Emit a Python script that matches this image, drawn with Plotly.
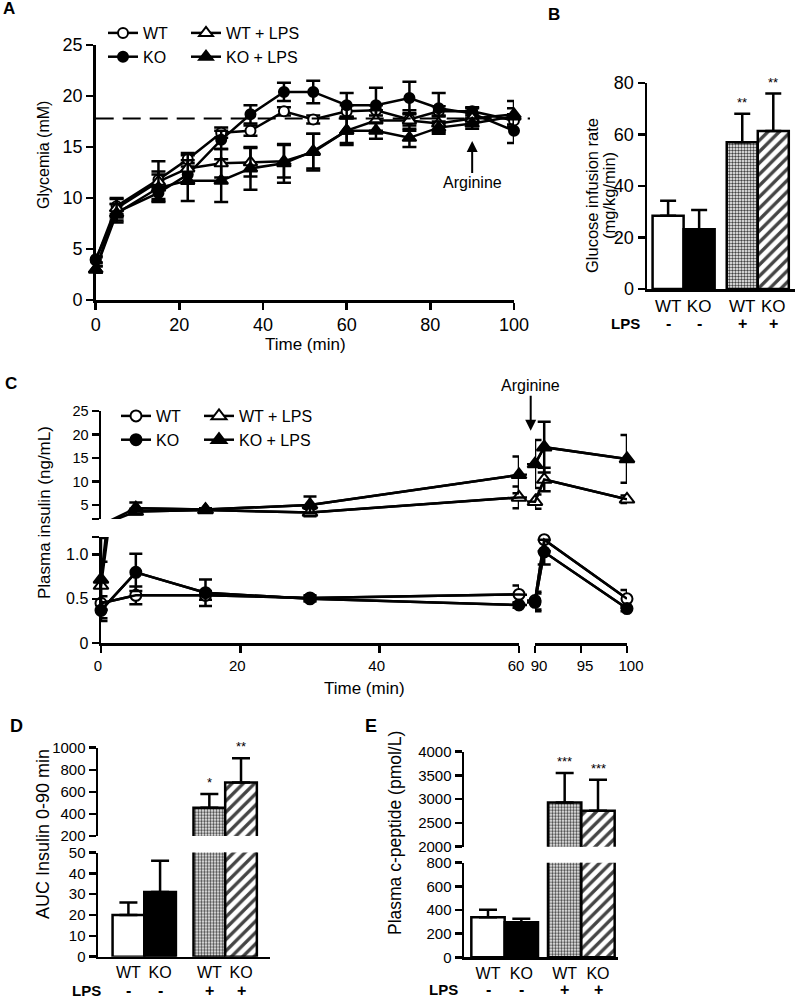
import plotly.graph_objects as go

W, H = 795, 998
FONT = "Liberation Sans, Arial, Helvetica, sans-serif"


def px(x):
    return x / W


def py(y):
    return 1 - y / H


# ---------------- data ----------------
groups = ["WT", "KO", "WT + LPS", "KO + LPS"]

# Panel A: glycemia (mM) during clamp
time_a = [0, 5, 15, 22, 30, 37, 45, 52, 60, 67, 75, 82, 90, 100]
glyc_wt = [3.9, 9.2, 11.8, 13.8, 16.4, 16.6, 18.5, 17.7, 18.5, 18.6, 17.7, 18.5, 18.5, 17.6]
glyc_wt_err = [0.3, 0.8, 0.8, 0.4, 0.5, 0.5, 0.4, 0.4, 0.6, 0.5, 0.6, 0.5, 0.4, 0.6]
glyc_ko = [4.0, 8.6, 10.5, 12.3, 15.7, 18.2, 20.4, 20.4, 19.1, 19.1, 19.8, 18.8, 18.3, 16.6]
glyc_ko_err = [0.3, 0.8, 0.6, 0.8, 0.9, 0.9, 0.9, 1.1, 1.2, 1.7, 1.6, 1.5, 0.5, 1.2]
glyc_wt_lps = [3.0, 9.0, 11.6, 12.9, 13.4, 13.5, 13.6, 14.5, 16.6, 17.6, 17.6, 17.3, 17.8, 18.2]
glyc_wt_lps_err = [0.3, 0.9, 2.0, 1.5, 1.4, 1.4, 1.6, 1.8, 1.2, 1.0, 1.0, 0.8, 0.5, 1.3]
glyc_ko_lps = [3.0, 8.5, 11.0, 11.7, 11.7, 12.9, 13.4, 14.6, 16.6, 16.6, 15.9, 16.9, 17.3, 18.0]
glyc_ko_lps_err = [0.3, 0.9, 1.3, 2.0, 2.1, 2.1, 1.9, 1.7, 1.4, 0.8, 0.9, 0.6, 0.5, 0.8]
glyc_target = 17.8
arginine_time = 90

# Panel B: glucose infusion rate
bar_geno = ["WT", "KO", "WT", "KO"]
bar_lps = ["-", "-", "+", "+"]
gir_mean = [28.4, 23.2, 57.0, 61.4]
gir_err = [5.9, 7.5, 11.1, 14.5]
gir_sig = ["", "", "**", "**"]

# Panel C: plasma insulin (ng/mL)
time_c = [0, 5, 15, 30, 60, 90, 91, 100]
ins_wt = [0.45, 0.54, 0.54, 0.51, 0.55, 0.48, 1.17, 0.50]
ins_wt_err = [0.08, 0.10, 0.05, 0.03, 0.10, 0.10, 0.13, 0.10]
ins_ko = [0.37, 0.80, 0.57, 0.50, 0.43, 0.46, 1.03, 0.39]
ins_ko_err = [0.09, 0.21, 0.15, 0.03, 0.03, 0.10, 0.14, 0.03]
ins_wt_lps = [0.65, 3.6, 3.9, 3.4, 6.6, 5.7, 10.4, 6.2]
ins_wt_lps_err = [0.27, 0.6, 0.3, 0.8, 2.3, 1.5, 2.5, 0.8]
ins_ko_lps = [0.72, 4.3, 4.0, 5.0, 11.4, 13.7, 17.3, 14.8]
ins_ko_lps_err = [0.47, 1.2, 0.3, 1.8, 3.9, 5.1, 5.4, 5.1]

# Panel D: AUC insulin 0-90 min
auc_mean = [20, 31, 455, 685]
auc_err = [6, 15, 125, 220]
auc_sig = ["", "", "*", "**"]

# Panel E: plasma c-peptide (pmol/L)
cpep_mean = [338, 296, 2930, 2755]
cpep_err = [65, 30, 620, 655]
cpep_sig = ["", "", "***", "***"]

# ---------------- styles ----------------
LW = 2.5
series_style = {
    "WT": dict(symbol="circle", color="white", size=10),
    "KO": dict(symbol="circle", color="black", size=10),
    "WT + LPS": dict(symbol="triangle-up", color="white", size=12),
    "KO + LPS": dict(symbol="triangle-up", color="black", size=12),
}
bar_fill = {
    ("WT", "-"): dict(color="white", shape="", size=8, solidity=0.3),
    ("KO", "-"): dict(color="black", shape="", size=8, solidity=0.3),
    ("WT", "+"): dict(color="white", shape=".", size=3, solidity=0.5),
    ("KO", "+"): dict(color="white", shape="/", size=8, solidity=0.42),
}


def mk(name, size=None):
    s = series_style[name]
    return dict(symbol=s["symbol"], color=s["color"], size=size or s["size"],
                line=dict(color="black", width=2))


def axstyle(**kw):
    d = dict(showline=True, linecolor="black", linewidth=LW, ticks="outside",
             ticklen=7, tickwidth=LW, tickcolor="black", showgrid=False,
             zeroline=False, fixedrange=True, automargin=False,
             tickfont=dict(family=FONT, size=18, color="black"))
    d.update(kw)
    return d


fig = go.Figure()

# ---------------- Panel A ----------------
series_a = [
    ("WT", glyc_wt, glyc_wt_err, "legend"),
    ("KO", glyc_ko, glyc_ko_err, "legend"),
    ("WT + LPS", glyc_wt_lps, glyc_wt_lps_err, "legend2"),
    ("KO + LPS", glyc_ko_lps, glyc_ko_lps_err, "legend2"),
]
for name, vals, errs, leg in series_a:
    fig.add_trace(go.Scatter(
        x=time_a, y=vals, name=name, mode="lines+markers",
        line=dict(color="black", width=LW), marker=mk(name),
        error_y=dict(type="data", array=errs, color="black", thickness=LW, width=7),
        xaxis="x", yaxis="y", cliponaxis=False, legend=leg, hoverinfo="skip"))


# ---------------- Panel B ----------------
def bar_positions(lps, gap):
    return [i + (gap if l == "+" else 0) for i, l in enumerate(lps)]


def bar_marker(geno, lps):
    keys = list(zip(geno, lps))
    return dict(
        color=[bar_fill[k]["color"] for k in keys],
        line=dict(color="black", width=LW),
        pattern=dict(shape=[bar_fill[k]["shape"] for k in keys],
                     size=[bar_fill[k]["size"] for k in keys],
                     solidity=[bar_fill[k]["solidity"] for k in keys],
                     fgcolor="black", fgopacity=1, fillmode="overlay"))


pos_b = bar_positions(bar_lps, 0.39)
fig.add_trace(go.Bar(
    x=pos_b, y=gir_mean, width=1, xaxis="x2", yaxis="y2",
    marker=bar_marker(bar_geno, bar_lps), showlegend=False, hoverinfo="skip",
    error_y=dict(type="data", symmetric=False, array=gir_err, arrayminus=[0] * 4,
                 color="black", thickness=LW, width=8)))

# ---------------- Panel C ----------------
C_LEFT = (101, 519)
C_RIGHT = (535, 627)
c_mid = (C_LEFT[1] + C_RIGHT[0]) / 2
c_left_range = [0, 60]
c_right_range = [90, 100]
c_up_range = [2, 25]
c_low_range = [0, 1.2]
c_left_line_range = [0, 60 * (c_mid - C_LEFT[0]) / (C_LEFT[1] - C_LEFT[0])]
c_right_line_range = [100 - 10 * (C_RIGHT[1] - c_mid) / (C_RIGHT[1] - C_RIGHT[0]), 100]

series_c = [
    ("WT", ins_wt, ins_wt_err, "legend3"),
    ("KO", ins_ko, ins_ko_err, "legend3"),
    ("WT + LPS", ins_wt_lps, ins_wt_lps_err, "legend4"),
    ("KO + LPS", ins_ko_lps, ins_ko_lps_err, "legend4"),
]
x_segments = [("x5", "x3", c_left_range), ("x6", "x4", c_right_range)]
y_segments = [("y3", c_up_range), ("y4", c_low_range)]
# connecting lines first (underneath), markers afterwards
for name, vals, errs, leg in series_c:
    for xa_line, xa_vis, xr in x_segments:
        for ya, yr in y_segments:
            fig.add_trace(go.Scatter(
                x=time_c, y=vals, mode="lines", line=dict(color="black", width=LW),
                xaxis=xa_line, yaxis=ya, showlegend=False, hoverinfo="skip"))
for name, vals, errs, leg in series_c:
    for xa_line, xa_vis, xr in x_segments:
        for ya, yr in y_segments:
            idx = [i for i, (t, v) in enumerate(zip(time_c, vals))
                   if xr[0] <= t <= xr[1] and yr[0] <= v <= yr[1]]
            if not idx:
                continue
            fig.add_trace(go.Scatter(
                x=[time_c[i] for i in idx], y=[vals[i] for i in idx],
                name=name, mode="lines+markers",
                line=dict(color="black", width=LW),
                marker=mk(name, series_style[name]["size"] + 1),
                error_y=dict(type="data", array=[errs[i] for i in idx], color="black",
                             thickness=LW, width=6.5),
                xaxis=xa_vis, yaxis=ya, cliponaxis=False, legend=leg,
                showlegend=(xa_vis == "x3" and ya == "y4"), hoverinfo="skip"))

# ---------------- Panel D & E ----------------
pos_d = bar_positions(bar_lps, 0.555)
pos_e = bar_positions(bar_lps, 0.3)
for ya in ("y5", "y6"):
    fig.add_trace(go.Bar(
        x=pos_d, y=auc_mean, width=1, xaxis="x7", yaxis=ya,
        marker=bar_marker(bar_geno, bar_lps), showlegend=False, hoverinfo="skip",
        error_y=dict(type="data", symmetric=False, array=auc_err, arrayminus=[0] * 4,
                     color="black", thickness=LW, width=9)))
for ya in ("y7", "y8"):
    fig.add_trace(go.Bar(
        x=pos_e, y=cpep_mean, width=1, xaxis="x8", yaxis=ya,
        marker=bar_marker(bar_geno, bar_lps), showlegend=False, hoverinfo="skip",
        error_y=dict(type="data", symmetric=False, array=cpep_err, arrayminus=[0] * 4,
                     color="black", thickness=LW, width=9)))

# ---------------- annotations ----------------
ann = []


def text(x, y, t, size=16, bold=False, angle=0, xref="paper", yref="paper", **kw):
    d = dict(x=x, y=y, xref=xref, yref=yref, text=f"<b>{t}</b>" if bold else t,
             showarrow=False, textangle=angle, xanchor="center", yanchor="middle",
             font=dict(family=FONT, size=size, color="black"))
    d.update(kw)
    ann.append(d)


# panel letters
text(px(9), py(9), "A", 17, True)
text(px(554), py(14), "B", 17, True)
text(px(11), py(383), "C", 17, True)
text(px(16), py(726), "D", 18, True)
text(px(371), py(726), "E", 18, True)

# axis titles
text(px(43), py(155), "Glycemia (mM)", 16, angle=-90)
text(px(305), py(345), "Time (min)", 17)
text(px(592), py(196), "Glucose infusion rate", 16.5, angle=-90)
text(px(609), py(196), "(mg/kg/min)", 16.5, angle=-90)
text(px(44), py(513), "Plasma insulin (ng/mL)", 17, angle=-90)
text(px(364), py(688), "Time (min)", 17)
text(px(43), py(834), "AUC Insulin 0-90 min", 18, angle=-90)
text(px(395), py(833), "Plasma c-peptide (pmol/L)", 17.5, angle=-90)

# LPS rows and significance stars
for xa, pos, yrow, lps_x, ya_sig, means, errs, sigs in [
    ("x2", pos_b, 323, 625, "y2", gir_mean, gir_err, gir_sig),
    ("x7", pos_d, 990, 86, "y5", auc_mean, auc_err, auc_sig),
    ("x8", pos_e, 989, 443, "y7", cpep_mean, cpep_err, cpep_sig),
]:
    text(px(lps_x), py(yrow), "LPS", 15, True)
    for p, l in zip(pos, bar_lps):
        text(p, py(yrow), l, 16, True, xref=xa)
    for p, m, e, s in zip(pos, means, errs, sigs):
        if s:
            text(p, m + e, s, 13, xref=xa, yref=ya_sig, yanchor="bottom", yshift=2)

# Arginine arrows
ann.append(dict(x=arginine_time, y=15.6, xref="x", yref="y", text="Arginine",
                showarrow=True, arrowhead=2, arrowsize=1.1, arrowwidth=2,
                arrowcolor="black", ax=0, ay=42,
                font=dict(family=FONT, size=16, color="black")))
ann.append(dict(x=px(530.7), y=20.8, xref="paper", yref="y3", text="Arginine",
                showarrow=True, arrowhead=2, arrowsize=1.1, arrowwidth=2,
                arrowcolor="black", ax=0, ay=-45,
                font=dict(family=FONT, size=16, color="black")))

# ---------------- layout ----------------
f15 = dict(family=FONT, size=15, color="black")
f16 = dict(family=FONT, size=16, color="black")
layout = dict(
    width=W, height=H, margin=dict(l=0, r=0, t=0, b=0, autoexpand=False),
    paper_bgcolor="white", plot_bgcolor="rgba(0,0,0,0)", barmode="overlay",
    font=dict(family=FONT, color="black"),
    annotations=ann,
    shapes=[dict(type="line", xref="paper", x0=px(95.7), x1=px(530), yref="y",
                 y0=glyc_target, y1=glyc_target,
                 line=dict(color="black", width=2, dash="18px,9px"))],
    # A
    xaxis=axstyle(domain=[px(95.7), px(514)], range=[0, 100],
                  tickvals=[0, 20, 40, 60, 80, 100], anchor="y"),
    yaxis=axstyle(domain=[py(300), py(45)], range=[0, 25],
                  tickvals=[0, 5, 10, 15, 20, 25], anchor="x"),
    # B
    xaxis2=axstyle(domain=[px(647), 1.0], range=[-0.68, 4.09], tickvals=pos_b,
                   ticktext=bar_geno, ticks="", anchor="y2",
                   tickfont=dict(family=FONT, size=17, color="black")),
    yaxis2=axstyle(domain=[py(289), py(83)], range=[0, 80],
                   tickvals=[0, 20, 40, 60, 80], anchor="x2"),
    # C
    xaxis3=axstyle(domain=[px(C_LEFT[0]), px(C_LEFT[1])], range=c_left_range,
                   tickvals=[0, 20, 40, 60], anchor="y4", tickfont=f15,
                   ticklabelshift=-3),
    xaxis4=axstyle(domain=[px(C_RIGHT[0]), px(C_RIGHT[1])], range=c_right_range,
                   tickvals=[90, 95, 100], anchor="y4", tickfont=f15,
                   ticklabelshift=4),
    xaxis5=dict(domain=[px(C_LEFT[0]), px(c_mid)], range=c_left_line_range,
                visible=False, anchor="y4", fixedrange=True, automargin=False),
    xaxis6=dict(domain=[px(c_mid), px(C_RIGHT[1])], range=c_right_line_range,
                visible=False, anchor="y4", fixedrange=True, automargin=False),
    yaxis3=axstyle(domain=[py(519), py(411)], range=c_up_range,
                   tickvals=[2, 5, 10, 15, 20, 25],
                   ticktext=["", "5", "10", "15", "20", "25"], anchor="x3",
                   tickfont=dict(family=FONT, size=14.5, color="black")),
    yaxis4=axstyle(domain=[py(643), py(537)], range=c_low_range,
                   tickvals=[0, 0.5, 1.0, 1.2], ticktext=["0", "0.5", "1.0", ""],
                   anchor="x3", tickfont=f16),
    # D
    xaxis7=axstyle(domain=[px(98), px(270)], range=[-0.96, 4.47], tickvals=pos_d,
                   ticktext=bar_geno, ticks="", anchor="y6", tickfont=f16),
    yaxis5=axstyle(domain=[py(836), py(747.7)], range=[200, 1000],
                   tickvals=[200, 400, 600, 800, 1000], anchor="x7", tickfont=f15),
    yaxis6=axstyle(domain=[py(956.7), py(852.5)], range=[0, 50],
                   tickvals=[0, 10, 20, 30, 40, 50], anchor="x7", tickfont=f15),
    # E
    xaxis8=axstyle(domain=[px(464), px(618)], range=[-0.72, 3.9], tickvals=pos_e,
                   ticktext=bar_geno, ticks="", anchor="y8", tickfont=f16),
    yaxis7=axstyle(domain=[py(846.7), py(751.7)], range=[2000, 4000],
                   tickvals=[2000, 2500, 3000, 3500, 4000], anchor="x8", tickfont=f15),
    yaxis8=axstyle(domain=[py(957.3), py(862.7)], range=[0, 800],
                   tickvals=[0, 200, 400, 600, 800], anchor="x8", tickfont=f15),
)
leg_common = dict(xanchor="left", yanchor="top", bgcolor="rgba(0,0,0,0)",
                  font=dict(family=FONT, size=16, color="black"),
                  tracegroupgap=0, itemclick=False, itemdoubleclick=False)
layout["legend"] = dict(x=px(103), y=py(16), **leg_common)
layout["legend2"] = dict(x=px(186), y=py(16), **leg_common)
layout["legend3"] = dict(x=px(116), y=py(399), **leg_common)
layout["legend4"] = dict(x=px(199), y=py(399), **leg_common)
fig.update_layout(**layout)

fig.write_html("out.html", config={"displayModeBar": False, "staticPlot": True},
               post_script="document.body.style.margin='0';document.body.style.padding='0';")
